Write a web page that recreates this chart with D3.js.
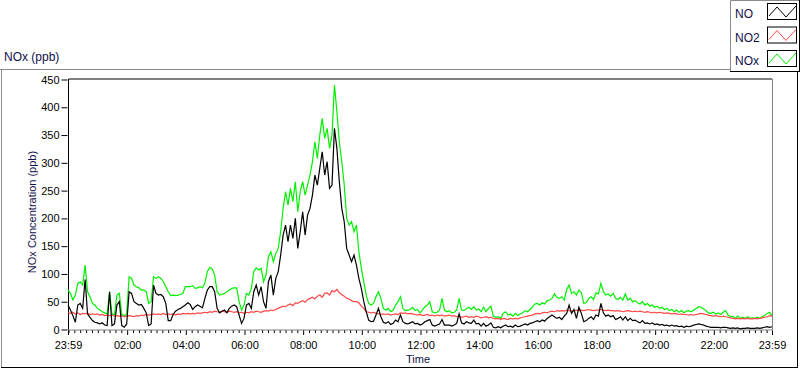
<!DOCTYPE html>
<head>
    <meta charset="utf-8">
    <title>NOx (ppb)</title>
    <style>
      body { margin: 0; background: #fff; }
      text { font-family: "Liberation Sans", Arial, sans-serif; }
    </style>
</head>

<script src="https://d3js.org/d3.v7.min.js"></script>

<div id="chart"></div>

<script>

    // samples every 5 minutes, starting at 23:59
    var stepMin = 5;

    var noxValues = [
      71,65,53,62,83,86,80,116,68,59,
      47,44,38,35,32,30,28,68,28,27,
      62,65,27,25,28,95,92,80,77,75,
      71,71,68,47,50,95,92,95,92,86,
      77,68,61,62,61,62,63,65,77,77,
      77,79,74,75,77,75,83,104,112,109,
      98,68,62,63,65,68,71,74,75,75,
      50,35,44,65,62,74,104,111,107,110,
      86,98,131,140,122,137,146,176,218,248,
      224,254,230,266,212,248,266,242,260,278,
      302,338,308,350,380,344,362,326,350,440,
      392,338,302,260,200,188,194,176,188,140,
      110,86,62,47,44,47,59,68,56,38,
      35,38,32,35,44,50,59,38,34,35,
      36,40,34,36,30,35,41,44,50,32,
      30,31,35,56,35,32,34,30,31,35,
      56,35,34,38,40,36,41,35,37,32,
      40,32,38,42,24,22,23,20,29,32,
      26,28,24,29,25,28,30,34,32,36,
      40,46,47,44,48,46,52,53,56,64,
      58,56,59,53,72,80,65,68,62,71,
      66,47,48,56,59,54,66,64,83,68,
      62,64,60,65,56,54,58,53,64,53,
      56,50,52,48,46,50,44,47,42,44,
      40,42,38,40,36,38,34,36,32,35,
      31,34,30,33,34,32,35,38,41,40,
      37,34,30,29,31,28,30,27,31,34,
      26,23,24,20,24,20,22,20,23,20,
      21,20,22,20,23,25,29,31,25
    ];

    var noValues = [
      44,35,25,13,44,47,38,90,28,22,
      16,13,12,10,12,8,7,68,7,10,
      44,50,7,4,10,68,65,50,47,44,
      45,38,30,7,10,80,65,62,63,59,
      47,16,16,27,33,36,38,41,44,48,
      45,36,41,44,42,39,56,71,77,77,
      68,38,30,33,35,30,38,42,44,41,
      26,11,20,44,47,38,68,80,62,77,
      50,38,86,98,62,92,104,134,170,188,
      158,188,164,200,146,176,212,170,206,218,
      242,278,260,290,320,278,302,254,260,362,
      326,266,218,194,146,134,122,134,116,92,
      74,50,32,17,14,15,26,38,23,13,
      11,14,9,11,17,14,26,14,11,10,
      12,14,10,11,8,10,14,16,18,8,
      6,8,10,18,8,8,8,6,8,11,
      28,12,10,14,12,11,17,10,11,6,
      11,6,8,12,4,3,5,3,6,8,
      5,6,4,8,5,6,8,10,8,11,
      12,14,16,14,17,15,20,23,26,23,
      20,22,18,24,29,44,29,36,20,40,
      29,14,16,20,23,18,26,24,47,30,
      24,26,23,25,18,20,23,17,23,16,
      20,16,17,14,12,16,11,12,10,12,
      9,10,8,9,7,8,6,8,6,7,
      5,6,4,6,5,6,8,9,10,9,
      8,6,5,4,4,4,4,3,4,4,
      3,2,3,2,3,1,2,2,3,2,
      2,2,3,2,3,4,5,4,5
    ];

    var no2Values = [
      30,29,31,28,30,27,29,28,30,27,
      28,27,28,26,27,25,26,25,26,24,
      25,24,25,23,24,25,24,23,25,24,
      26,25,27,26,27,28,27,28,27,29,
      27,28,27,28,26,28,27,29,28,29,
      28,29,28,30,29,30,31,30,32,31,
      33,32,31,33,32,31,33,32,31,32,
      30,31,29,31,30,32,31,33,32,31,
      33,34,33,35,34,36,38,40,42,41,
      44,46,43,48,47,50,52,49,54,56,
      58,55,60,62,58,65,66,62,70,68,
      72,66,63,60,56,55,52,50,50,48,
      42,38,32,31,30,31,29,28,27,28,
      27,28,26,27,28,27,30,29,30,28,
      29,28,27,26,27,25,26,27,25,26,
      24,26,25,26,24,25,26,24,25,23,
      24,22,23,24,22,23,22,24,23,21,
      22,23,21,22,20,19,20,18,20,19,
      18,20,19,20,19,21,22,23,24,25,
      26,28,29,28,30,31,30,32,33,32,
      34,33,34,33,35,34,33,34,35,34,
      35,34,35,36,35,34,35,35,36,35,
      34,35,34,34,33,34,33,32,33,34,
      33,32,33,32,33,32,31,32,31,30,
      31,30,31,30,29,30,29,28,29,28,
      27,28,27,27,26,27,26,27,28,29,
      28,27,26,25,24,25,24,23,24,23,
      22,21,20,19,20,19,20,19,20,19,
      19,20,19,20,21,22,23,25,24
    ];

    var seriesNames = ["NO", "NO2", "NOx"];
    var seriesColors = ["#000000", "#ff4848", "#00f000"];

    var yTicks = [0, 50, 100, 150, 200, 250, 300, 350, 400, 450];
    var xTickMins = [0, 121, 241, 361, 481, 601, 721, 841, 961, 1081, 1201, 1321, 1440];
    var xTickLabels = ["23:59", "02:00", "04:00", "06:00", "08:00", "10:00", "12:00",
                       "14:00", "16:00", "18:00", "20:00", "22:00", "23:59"];

    var W = 800, H = 369;
    var plot = {left: 68, right: 772, top: 79.5, bottom: 329.5};

    var svg = d3.select("#chart")
      .append("svg")
      .attr("width", W)
      .attr("height", H)
      .style("display", "block");

    svg.append("rect").attr("width", W).attr("height", H).attr("fill", "#fff");

    // outer frame (grey top/left, black bottom/right)
    function seg(x1, y1, x2, y2, c) {
      svg.append("line")
        .attr("x1", x1).attr("y1", y1).attr("x2", x2).attr("y2", y2)
        .attr("stroke", c).attr("stroke-width", 1);
    }
    seg(0, 69.5, 731, 69.5, "#8a8a8a");
    seg(1.5, 69, 1.5, 367, "#8a8a8a");
    seg(1, 367.5, 798, 367.5, "#000");
    seg(797.5, 71, 797.5, 368, "#000");

    // title
    svg.append("text")
      .attr("x", 4)
      .attr("y", 61)
      .attr("font-size", "12px")
      .attr("fill", "#101048")
      .text("NOx (ppb)");

    var x = d3.scaleLinear()
      .domain([0, 1440])
      .range([plot.left, plot.right]);

    var y = d3.scaleLinear()
      .domain([0, 450])
      .range([plot.bottom, plot.top]);

    // minor x ticks every 12 minutes from 00:00
    var minorMins = d3.range(1, 1440, 12).filter(function (m) { return xTickMins.indexOf(m) < 0; });

    var gx = svg.append("g").attr("transform", "translate(0," + (plot.bottom + 0.5) + ")");
    gx.call(d3.axisBottom(x).tickValues(minorMins).tickSize(3).tickFormat(""))
      .select(".domain").remove();
    var gx2 = svg.append("g").attr("transform", "translate(0," + (plot.bottom + 0.5) + ")");
    gx2.call(d3.axisBottom(x).tickValues(xTickMins).tickSize(5).tickPadding(6)
        .tickFormat(function (d, i) { return xTickLabels[i]; }))
      .select(".domain").remove();
    svg.selectAll(".tick text")
      .attr("font-family", "Liberation Sans, Arial, sans-serif")
      .attr("font-size", "11px")
      .attr("fill", "#000");

    var gy = svg.append("g").attr("transform", "translate(" + (plot.left - 0.5) + ",0)");
    gy.call(d3.axisLeft(y).tickValues(yTicks).tickSize(6).tickPadding(2))
      .select(".domain").remove();
    gy.selectAll(".tick text")
      .attr("font-family", "Liberation Sans, Arial, sans-serif")
      .attr("font-size", "11px")
      .attr("fill", "#000");

    // plot border: black top/left, grey bottom/right
    seg(plot.left + 0.5, plot.top - 0.5, plot.right, plot.top - 0.5, "#000");
    seg(plot.left + 0.5, plot.top - 0.5, plot.left + 0.5, plot.bottom + 1, "#000");
    seg(plot.left, plot.bottom + 0.5, plot.right + 1, plot.bottom + 0.5, "#808080");
    seg(plot.right + 0.5, plot.top - 0.5, plot.right + 0.5, plot.bottom + 1, "#808080");

    // axis names
    svg.append("text")
      .attr("transform", "translate(36," + 212 + ") rotate(-90)")
      .attr("text-anchor", "middle")
      .attr("font-size", "11px")
      .attr("fill", "#101048")
      .text("NOx Concentration (ppb)");

    svg.append("text")
      .attr("x", 418)
      .attr("y", 363)
      .attr("text-anchor", "middle")
      .attr("font-size", "11px")
      .attr("fill", "#101048")
      .text("Time");

    // data lines
    var line = d3.line()
      .x(function (d, i) { return x(i * stepMin); })
      .y(function (d) { return y(d); });

    var drawOrder = [[noxValues, 2], [no2Values, 1], [noValues, 0]];
    drawOrder.forEach(function (s) {
      svg.append("path")
        .datum(s[0])
        .attr("d", line)
        .attr("fill", "none")
        .attr("stroke", seriesColors[s[1]])
        .attr("stroke-width", 1.2);
    });

    // legend
    var lg = svg.append("g");
    lg.append("rect").attr("x", 730).attr("y", 0).attr("width", 70).attr("height", 72).attr("fill", "#fff");
    lg.append("line").attr("x1", 730.5).attr("y1", 0.5).attr("x2", 799).attr("y2", 0.5).attr("stroke", "#8a8a8a");
    lg.append("line").attr("x1", 730.5).attr("y1", 0.5).attr("x2", 730.5).attr("y2", 72).attr("stroke", "#8a8a8a");
    lg.append("line").attr("x1", 730).attr("y1", 71.5).attr("x2", 800).attr("y2", 71.5).attr("stroke", "#000");
    lg.append("line").attr("x1", 799.5).attr("y1", 0).attr("x2", 799.5).attr("y2", 72).attr("stroke", "#000");

    var zig = [[0, 10], [8, 1], [17, 11], [27, 0]];
    seriesNames.forEach(function (name, i) {
      var top = 3 + i * 23.5;
      lg.append("text")
        .attr("x", 735)
        .attr("y", top + 15)
        .attr("font-size", "12px")
        .attr("fill", "#101048")
        .text(name);
      lg.append("rect")
        .attr("x", 767.5).attr("y", top + 0.5)
        .attr("width", 29).attr("height", 16)
        .attr("fill", "#fff").attr("stroke", "#000");
      lg.append("path")
        .attr("d", d3.line()(zig.map(function (p) { return [769 + p[0], top + 3 + p[1]]; })))
        .attr("fill", "none")
        .attr("stroke", seriesColors[i]);
    });

</script>
